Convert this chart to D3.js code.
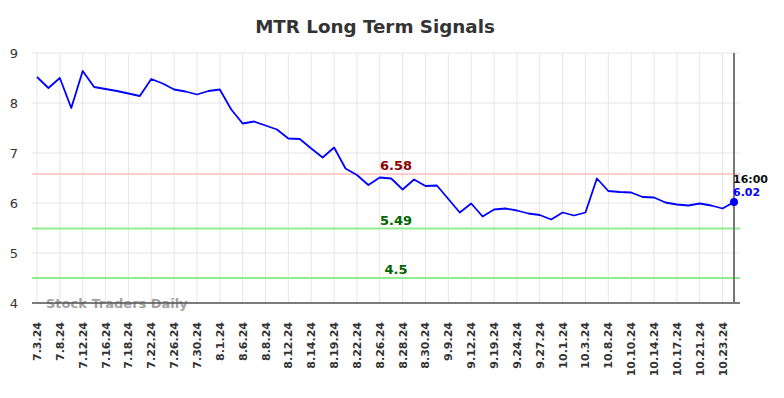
<!DOCTYPE html>
<html>
<head>
<meta charset="utf-8">
<script src="https://cdn.jsdelivr.net/npm/d3@7"></script>
<style>
  body { margin: 0; background: #fff; }
  svg { font-family: "DejaVu Sans", sans-serif; }
</style>
</head>
<body>
<div id="chart"></div>
<script>
// tick labels, one per two trading days
const tickLabels = ["7.3.24","7.8.24","7.12.24","7.16.24","7.18.24","7.22.24","7.26.24","7.30.24",
  "8.1.24","8.6.24","8.8.24","8.12.24","8.14.24","8.19.24","8.22.24","8.26.24","8.28.24","8.30.24",
  "9.9.24","9.12.24","9.19.24","9.24.24","9.27.24","10.1.24","10.3.24","10.8.24","10.10.24",
  "10.14.24","10.17.24","10.21.24","10.23.24"];

// closing prices
const prices = [8.52,8.30,8.50,7.90,8.64,8.32,8.28,8.24,8.19,8.14,
  8.48,8.39,8.27,8.23,8.17,8.24,8.27,7.87,7.59,7.63,
  7.55,7.47,7.29,7.28,7.09,6.91,7.11,6.69,6.56,6.36,
  6.51,6.49,6.27,6.47,6.34,6.35,6.08,5.81,5.99,5.73,
  5.87,5.89,5.85,5.79,5.76,5.67,5.81,5.75,5.81,6.49,
  6.24,6.22,6.21,6.12,6.11,6.01,5.97,5.95,5.99,5.95,
  5.89,6.02];

const signals = [
  {value: 6.58, line: "#ffcccc", text: "#8b0000"},
  {value: 5.49, line: "#90ee90", text: "#006400"},
  {value: 4.5,  line: "#90ee90", text: "#006400"}
];
const yTicks = [4, 5, 6, 7, 8, 9];

const width = 784, height = 398;
const plotLeft = 32, plotRight = 740, plotTop = 53, plotBottom = 303;

const svg = d3.select("#chart").append("svg")
  .attr("width", width).attr("height", height);

const x = d3.scaleLinear().domain([0, prices.length - 1]).range([37, 734]);
const y = d3.scaleLinear().domain([4, 9]).range([plotBottom, plotTop]);

// title
svg.append("text")
  .attr("x", 375).attr("y", 33)
  .attr("text-anchor", "middle")
  .attr("font-size", 18.3).attr("font-weight", "bold")
  .attr("fill", "#333")
  .text("MTR Long Term Signals");

// grid
svg.append("g").selectAll("line").data(yTicks).join("line")
  .attr("x1", plotLeft).attr("x2", plotRight)
  .attr("y1", d => y(d)).attr("y2", d => y(d))
  .attr("stroke", "#e6e6e6").attr("stroke-width", 1);

svg.append("g").selectAll("line").data(tickLabels).join("line")
  .attr("x1", (d, i) => x(i * 2)).attr("x2", (d, i) => x(i * 2))
  .attr("y1", plotTop).attr("y2", plotBottom)
  .attr("stroke", "#e6e6e6").attr("stroke-width", 1);

// y labels
svg.append("g").selectAll("text").data(yTicks).join("text")
  .attr("x", 18).attr("y", d => y(d) + 5)
  .attr("text-anchor", "end")
  .attr("font-size", 13).attr("fill", "#333")
  .text(d => d);

// x labels
svg.append("g").selectAll("text").data(tickLabels).join("text")
  .attr("transform", (d, i) => `translate(${x(i * 2) + 4},${322}) rotate(-90)`)
  .attr("text-anchor", "end")
  .attr("font-size", 11).attr("font-weight", "bold").attr("fill", "#333")
  .text(d => d);

// signal lines
svg.append("g").selectAll("line").data(signals).join("line")
  .attr("x1", plotLeft).attr("x2", plotRight)
  .attr("y1", d => y(d.value)).attr("y2", d => y(d.value))
  .attr("stroke", d => d.line).attr("stroke-width", 2);

svg.append("g").selectAll("text").data(signals).join("text")
  .attr("x", 396).attr("y", d => y(d.value) - 4)
  .attr("text-anchor", "middle")
  .attr("font-size", 13).attr("font-weight", "bold")
  .attr("fill", d => d.text)
  .text(d => d.value);

// watermark
svg.append("text")
  .attr("x", 46).attr("y", 308)
  .attr("font-size", 13).attr("font-weight", "bold")
  .attr("fill", "#999").attr("opacity", 0.9)
  .text("Stock Traders Daily");

// axis line
svg.append("line")
  .attr("x1", plotLeft).attr("x2", plotRight)
  .attr("y1", plotBottom).attr("y2", plotBottom)
  .attr("stroke", "#555").attr("stroke-width", 1.5);

// current day marker
const last = prices.length - 1;
svg.append("line")
  .attr("x1", x(last)).attr("x2", x(last))
  .attr("y1", plotTop).attr("y2", plotBottom)
  .attr("stroke", "#777").attr("stroke-width", 2);

// price line
svg.append("path")
  .datum(prices)
  .attr("fill", "none")
  .attr("stroke", "#0000ff")
  .attr("stroke-width", 1.8)
  .attr("stroke-linejoin", "round")
  .attr("d", d3.line().x((d, i) => x(i)).y(d => y(d)));

svg.append("circle")
  .attr("cx", x(last)).attr("cy", y(prices[last]))
  .attr("r", 4).attr("fill", "#0000ff");

svg.append("text")
  .attr("x", x(last) - 1).attr("y", y(prices[last]) - 19)
  .attr("font-size", 11).attr("font-weight", "bold").attr("fill", "#111")
  .text("16:00");

svg.append("text")
  .attr("x", x(last) - 1).attr("y", y(prices[last]) - 6)
  .attr("font-size", 11).attr("font-weight", "bold").attr("fill", "#0000ff")
  .text(prices[last].toFixed(2));
</script>
</body>
</html>
